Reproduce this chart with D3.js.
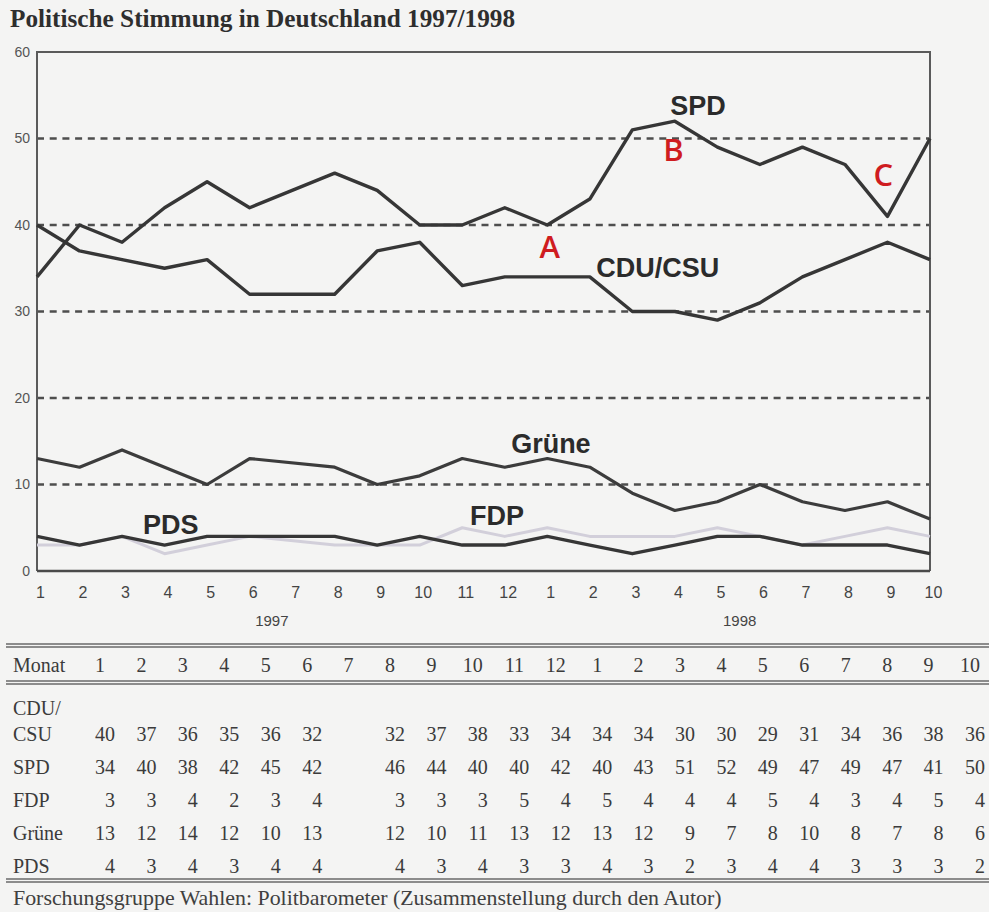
<!DOCTYPE html>
<html>
<head>
<meta charset="utf-8">
<script src="https://cdn.jsdelivr.net/npm/d3@7"></script>
<style>
  html, body { margin: 0; padding: 0; background: #f4f4f3; }
  svg { display: block; }
</style>
</head>
<body>
<svg id="chart" width="989" height="912"></svg>
<script>
// ---------- DATA ----------
const title = "Politische Stimmung in Deutschland 1997/1998";
const source = "Forschungsgruppe Wahlen: Politbarometer (Zusammenstellung durch den Autor)";
const months = ["1","2","3","4","5","6","7","8","9","10","11","12","1","2","3","4","5","6","7","8","9","10"];
const years = [{label: "1997", from: 0, to: 11}, {label: "1998", from: 12, to: 21}];
const yTicks = [0, 10, 20, 30, 40, 50, 60];
const gridTicks = [10, 20, 30, 40, 50];
const cduCsu = [40,37,36,35,36,32,null,32,37,38,33,34,34,34,30,30,29,31,34,36,38,36];
const spd    = [34,40,38,42,45,42,null,46,44,40,40,42,40,43,51,52,49,47,49,47,41,50];
const fdp    = [3,3,4,2,3,4,null,3,3,3,5,4,5,4,4,4,5,4,3,4,5,4];
const gruene = [13,12,14,12,10,13,null,12,10,11,13,12,13,12,9,7,8,10,8,7,8,6];
const pds    = [4,3,4,3,4,4,null,4,3,4,3,3,4,3,2,3,4,4,3,3,3,2];
const seriesNames = ["CDU/CSU", "SPD", "FDP", "Grüne", "PDS"];
const tableRowLabels = ["CSU", "SPD", "FDP", "Grüne", "PDS"];

// ---------- SETUP ----------
const svg = d3.select("#chart");
const W = 989, H = 912;
const plot = {left: 37, right: 930, top: 52, bottom: 571};
const x = d3.scaleLinear().domain([0, months.length - 1]).range([plot.left, plot.right]);
const y = d3.scaleLinear().domain([0, 60]).range([plot.bottom, plot.top]);
const series = [
  {name: "CDU/CSU", values: cduCsu, color: "#363636", width: 3.4},
  {name: "SPD", values: spd, color: "#363636", width: 3.4},
  {name: "FDP", values: fdp, color: "#d2cfda", width: 3},
  {name: "Grüne", values: gruene, color: "#3c3c3c", width: 3.2},
  {name: "PDS", values: pds, color: "#363636", width: 3.4}
];

const sans = "'Liberation Sans', Arial, sans-serif";
const serif = "'Liberation Serif', 'Times New Roman', serif";

function fitText(sel, target) {
  const n = sel.node();
  const fs = parseFloat(sel.attr("font-size"));
  const len = n.getComputedTextLength();
  if (len > 0) sel.attr("font-size", (fs * target / len).toFixed(2));
}

// background
svg.append("rect").attr("width", W).attr("height", H).attr("fill", "#f4f4f3");

// title
const t = svg.append("text").attr("x", 10).attr("y", 27)
  .attr("font-family", serif).attr("font-weight", "bold").attr("font-size", 21)
  .attr("fill", "#2e2e2e").text(title);
fitText(t, 505);

// grid (dashed)
svg.append("g").selectAll("line").data(gridTicks).join("line")
  .attr("x1", plot.left).attr("x2", plot.right)
  .attr("y1", d => y(d)).attr("y2", d => y(d))
  .attr("stroke", "#4e4e4e").attr("stroke-width", 2.4)
  .attr("stroke-dasharray", "7,5.7");

// frame
svg.append("path")
  .attr("d", `M${plot.left},${plot.bottom}V${plot.top}H${plot.right}V${plot.bottom}`)
  .attr("fill", "none").attr("stroke", "#5a5a5a").attr("stroke-width", 2);
svg.append("line")
  .attr("x1", plot.left).attr("x2", plot.right)
  .attr("y1", plot.bottom).attr("y2", plot.bottom)
  .attr("stroke", "#4a4a4a").attr("stroke-width", 2.4);

// y axis labels
const yAxis = d3.axisLeft(y).tickValues(yTicks).tickSize(0).tickPadding(7);
const gy = svg.append("g").attr("transform", `translate(${plot.left},0)`).call(yAxis);
gy.select(".domain").remove();
gy.selectAll("text").attr("font-family", sans).attr("font-size", 14).attr("fill", "#555");

// x axis labels
const xAxis = d3.axisBottom(x).tickValues(d3.range(months.length))
  .tickFormat(i => months[i]).tickSize(0).tickPadding(16);
const gx = svg.append("g").attr("transform", `translate(3,${plot.bottom})`).call(xAxis);
gx.select(".domain").remove();
gx.selectAll("text").attr("font-family", sans).attr("font-size", 16).attr("fill", "#444");

// year labels
svg.append("g").selectAll("text").data(years).join("text")
  .attr("x", d => (x(d.from) + x(d.to)) / 2 + 1).attr("y", 626)
  .attr("text-anchor", "middle")
  .attr("font-family", sans).attr("font-size", 15).attr("fill", "#444")
  .text(d => d.label);

// lines
const line = d3.line().x(d => x(d.i)).y(d => y(d.v));
const drawOrder = ["FDP", "Grüne", "CDU/CSU", "SPD", "PDS"];
drawOrder.forEach(name => {
  const s = series.find(s => s.name === name);
  const pts = s.values.map((v, i) => ({i, v})).filter(d => d.v !== null);
  svg.append("path").datum(pts)
    .attr("d", line)
    .attr("fill", "none").attr("stroke", s.color)
    .attr("stroke-width", s.width).attr("stroke-linejoin", "round");
});

// series labels (annotations, positioned in data coordinates)
const seriesLabels = [
  {text: "SPD", i: 14.89, v: 52.7},
  {text: "CDU/CSU", i: 13.15, v: 34.0},
  {text: "Grüne", i: 11.15, v: 13.64},
  {text: "PDS", i: 2.49, v: 4.28},
  {text: "FDP", i: 10.18, v: 5.32}
];
svg.append("g").selectAll("text").data(seriesLabels).join("text")
  .attr("x", d => x(d.i)).attr("y", d => y(d.v))
  .attr("font-family", sans).attr("font-weight", "bold").attr("font-size", 27)
  .attr("fill", "#2b2b2b").text(d => d.text);

// red markers A B C
const marks = [
  {text: "A", i: 12.06, v: 36.18},
  {text: "B", i: 14.97, v: 47.4},
  {text: "C", i: 19.9, v: 44.5}
];
svg.append("g").selectAll("text").data(marks).join("text")
  .attr("x", d => x(d.i)).attr("y", d => y(d.v))
  .attr("text-anchor", "middle")
  .attr("font-family", "'Open Sans', 'Liberation Sans', sans-serif")
  .attr("font-weight", 600).attr("font-size", 31)
  .attr("fill", "#cf1c1f").text(d => d.text);

// ---------- TABLE ----------
const colRight = d3.scaleLinear().domain([0, months.length - 1]).range([115, 985]);
const rowY = d3.scaleLinear().domain([0, 4]).range([741, 873]);
const tableFont = 20;
const tcol = "#3b3b3b";

function doubleRule(yy) {
  [0, 3].forEach(o => svg.append("line")
    .attr("x1", 6).attr("x2", W).attr("y1", yy + o).attr("y2", yy + o)
    .attr("stroke", "#6a6a6a").attr("stroke-width", 1.5));
}
doubleRule(644);
doubleRule(681);
doubleRule(879);

svg.append("text").attr("x", 13).attr("y", 672)
  .attr("font-family", serif).attr("font-size", tableFont).attr("fill", tcol).text("Monat");
svg.append("g").selectAll("text").data(months).join("text")
  .attr("x", (d, i) => colRight(i) - 15).attr("y", 672)
  .attr("text-anchor", "middle")
  .attr("font-family", serif).attr("font-size", tableFont).attr("fill", tcol)
  .text(d => d);

svg.append("text").attr("x", 13).attr("y", 715)
  .attr("font-family", serif).attr("font-size", tableFont).attr("fill", tcol).text("CDU/");

const tableSeries = [cduCsu, spd, fdp, gruene, pds];
tableSeries.forEach((vals, r) => {
  svg.append("text").attr("x", 13).attr("y", rowY(r))
    .attr("font-family", serif).attr("font-size", tableFont).attr("fill", tcol)
    .text(tableRowLabels[r]);
  svg.append("g").selectAll("text").data(vals.map((v, i) => ({v, i})).filter(d => d.v !== null))
    .join("text")
    .attr("x", d => colRight(d.i)).attr("y", rowY(r))
    .attr("text-anchor", "end")
    .attr("font-family", serif).attr("font-size", tableFont).attr("fill", tcol)
    .text(d => d.v);
});

const f = svg.append("text").attr("x", 13).attr("y", 905)
  .attr("font-family", serif).attr("font-size", 18).attr("fill", "#404040").text(source);
fitText(f, 709);
</script>
</body>
</html>
